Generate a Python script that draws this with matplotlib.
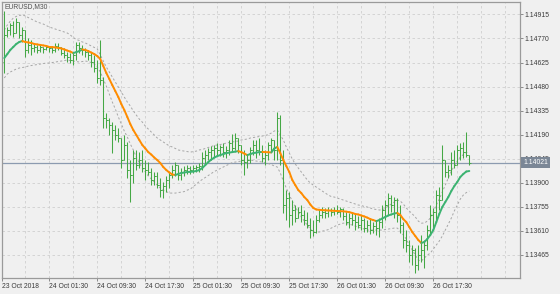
import matplotlib
matplotlib.use("Agg")
import matplotlib.pyplot as plt
import numpy as np
from matplotlib.collections import LineCollection
import matplotlib.transforms as mtransforms

symbol_title = "EURUSD,M30"
first_open = 1.14628
close = [
    1.14791, 1.14821, 1.14851, 1.14803, 1.14869, 1.14791, 1.14821, 1.14701, 1.14731, 1.14713,
    1.14719, 1.14701, 1.14719, 1.14707, 1.14719, 1.14713, 1.14701, 1.14725, 1.14719, 1.14682,
    1.14670, 1.14658, 1.14640, 1.14670, 1.14731, 1.14713, 1.14701, 1.14688, 1.14670, 1.14628,
    1.14592, 1.14532, 1.14520, 1.14290, 1.14278, 1.14248, 1.14218, 1.14188, 1.14170, 1.14037,
    1.14128, 1.13977, 1.13947, 1.14049, 1.14007, 1.14037, 1.13989, 1.13977, 1.13965, 1.13917,
    1.13941, 1.13886, 1.13856, 1.13880, 1.13917, 1.13947, 1.13977, 1.14007, 1.13947, 1.13965,
    1.13977, 1.13989, 1.13977, 1.13989, 1.13995, 1.14001, 1.14049, 1.14067, 1.14085, 1.14098,
    1.14110, 1.14098, 1.14116, 1.14085, 1.14098, 1.14140, 1.14110, 1.14170, 1.14128, 1.14037,
    1.14025, 1.14037, 1.14098, 1.14128, 1.14098, 1.14085, 1.14049, 1.14067, 1.14128, 1.14158,
    1.14098, 1.14290, 1.14037, 1.13766, 1.13808, 1.13706, 1.13736, 1.13687, 1.13724, 1.13706,
    1.13675, 1.13645, 1.13615, 1.13603, 1.13675, 1.13706, 1.13724, 1.13718, 1.13736, 1.13724,
    1.13736, 1.13724, 1.13742, 1.13700, 1.13663, 1.13687, 1.13675, 1.13663, 1.13645, 1.13675,
    1.13627, 1.13645, 1.13615, 1.13639, 1.13627, 1.13663, 1.13736, 1.13766, 1.13808, 1.13766,
    1.13796, 1.13706, 1.13645, 1.13555, 1.13525, 1.13464, 1.13495, 1.13404, 1.13464, 1.13495,
    1.13525, 1.13615, 1.13706, 1.13724, 1.13826, 1.13796, 1.14037, 1.13965, 1.13977, 1.14037,
    1.14007, 1.14098, 1.14110, 1.14085, 1.14067, 1.14021,
]
high = [
    1.14936, 1.14839, 1.14863, 1.14876, 1.14894, 1.14869, 1.14839, 1.14821, 1.14773, 1.14761,
    1.14743, 1.14731, 1.14731, 1.14719, 1.14731, 1.14719, 1.14725, 1.14743, 1.14743, 1.14719,
    1.14713, 1.14688, 1.14682, 1.14682, 1.14749, 1.14749, 1.14731, 1.14713, 1.14701, 1.14688,
    1.14670, 1.14640, 1.14761, 1.14538, 1.14321, 1.14290, 1.14266, 1.14248, 1.14230, 1.14158,
    1.14188, 1.14146, 1.14037, 1.14098, 1.14098, 1.14085, 1.14098, 1.14037, 1.14025, 1.13989,
    1.13965, 1.13965, 1.13929, 1.13905, 1.13941, 1.13965, 1.14007, 1.14025, 1.14007, 1.13989,
    1.14001, 1.14007, 1.14001, 1.14007, 1.14007, 1.14019, 1.14085, 1.14098, 1.14110, 1.14122,
    1.14128, 1.14140, 1.14128, 1.14140, 1.14122, 1.14158, 1.14194, 1.14200, 1.14170, 1.14128,
    1.14098, 1.14067, 1.14116, 1.14158, 1.14158, 1.14170, 1.14128, 1.14098, 1.14146, 1.14170,
    1.14158, 1.14327, 1.14309, 1.14098, 1.13856, 1.13844, 1.13796, 1.13766, 1.13754, 1.13766,
    1.13736, 1.13724, 1.13687, 1.13675, 1.13706, 1.13736, 1.13754, 1.13748, 1.13754, 1.13748,
    1.13754, 1.13766, 1.13754, 1.13748, 1.13724, 1.13718, 1.13724, 1.13712, 1.13700, 1.13706,
    1.13687, 1.13675, 1.13687, 1.13663, 1.13675, 1.13687, 1.13766, 1.13796, 1.13838, 1.13826,
    1.13814, 1.13808, 1.13766, 1.13663, 1.13615, 1.13555, 1.13525, 1.13507, 1.13525, 1.13585,
    1.13555, 1.13645, 1.13766, 1.13748, 1.13856, 1.13874, 1.14128, 1.14037, 1.14007, 1.14085,
    1.14098, 1.14128, 1.14140, 1.14146, 1.14206, 1.14067,
]
low = [
    1.14562, 1.14779, 1.14791, 1.14779, 1.14803, 1.14773, 1.14749, 1.14658, 1.14682, 1.14670,
    1.14688, 1.14682, 1.14688, 1.14682, 1.14701, 1.14688, 1.14682, 1.14688, 1.14701, 1.14670,
    1.14652, 1.14628, 1.14622, 1.14610, 1.14640, 1.14682, 1.14670, 1.14658, 1.14640, 1.14598,
    1.14568, 1.14502, 1.14489, 1.14230, 1.14230, 1.14188, 1.14079, 1.14158, 1.14146, 1.13989,
    1.14049, 1.13929, 1.13784, 1.13899, 1.13977, 1.13989, 1.13965, 1.13917, 1.13947, 1.13886,
    1.13886, 1.13868, 1.13814, 1.13808, 1.13844, 1.13868, 1.13929, 1.13941, 1.13917, 1.13917,
    1.13941, 1.13953, 1.13953, 1.13959, 1.13965, 1.13965, 1.13977, 1.14007, 1.14037, 1.14037,
    1.14055, 1.14067, 1.14061, 1.14055, 1.14049, 1.14067, 1.14085, 1.14098, 1.14079, 1.14007,
    1.13947, 1.13989, 1.14019, 1.14067, 1.14049, 1.14067, 1.14025, 1.14007, 1.14037, 1.14085,
    1.14037, 1.14037, 1.14007, 1.13718, 1.13675, 1.13633, 1.13645, 1.13663, 1.13687, 1.13663,
    1.13645, 1.13627, 1.13567, 1.13579, 1.13597, 1.13663, 1.13687, 1.13687, 1.13694, 1.13700,
    1.13706, 1.13712, 1.13694, 1.13675, 1.13645, 1.13627, 1.13645, 1.13615, 1.13627, 1.13615,
    1.13603, 1.13603, 1.13591, 1.13597, 1.13585, 1.13573, 1.13627, 1.13675, 1.13706, 1.13724,
    1.13687, 1.13663, 1.13597, 1.13507, 1.13482, 1.13422, 1.13404, 1.13356, 1.13374, 1.13422,
    1.13386, 1.13495, 1.13585, 1.13627, 1.13663, 1.13736, 1.13808, 1.13935, 1.13929, 1.13947,
    1.13989, 1.14025, 1.14037, 1.14049, 1.14055, 1.14007,
]
ma = [
    1.14652, 1.14676, 1.14701, 1.14719, 1.14737, 1.14749, 1.14755, 1.14749, 1.14746, 1.14743,
    1.14737, 1.14734, 1.14731, 1.14728, 1.14725, 1.14719, 1.14718, 1.14716, 1.14713, 1.14710,
    1.14704, 1.14697, 1.14691, 1.14682, 1.14688, 1.14694, 1.14704, 1.14701, 1.14694, 1.14685,
    1.14676, 1.14664, 1.14646, 1.14604, 1.14562, 1.14526, 1.14489, 1.14453, 1.14417, 1.14375,
    1.14339, 1.14297, 1.14254, 1.14218, 1.14188, 1.14158, 1.14128, 1.14107, 1.14085, 1.14070,
    1.14052, 1.14037, 1.14019, 1.13995, 1.13977, 1.13962, 1.13950, 1.13947, 1.13953, 1.13959,
    1.13962, 1.13965, 1.13966, 1.13968, 1.13971, 1.13977, 1.13989, 1.14007, 1.14025, 1.14040,
    1.14052, 1.14061, 1.14067, 1.14073, 1.14079, 1.14082, 1.14085, 1.14088, 1.14091, 1.14085,
    1.14076, 1.14067, 1.14073, 1.14079, 1.14082, 1.14085, 1.14086, 1.14085, 1.14084, 1.14083,
    1.14107, 1.14116, 1.14079, 1.14037, 1.14001, 1.13965, 1.13917, 1.13886, 1.13856, 1.13838,
    1.13814, 1.13796, 1.13769, 1.13748, 1.13739, 1.13737, 1.13735, 1.13734, 1.13733, 1.13732,
    1.13731, 1.13730, 1.13729, 1.13728, 1.13726, 1.13723, 1.13718, 1.13712, 1.13709, 1.13703,
    1.13697, 1.13690, 1.13681, 1.13675, 1.13669, 1.13675, 1.13685, 1.13694, 1.13703, 1.13709,
    1.13715, 1.13718, 1.13706, 1.13681, 1.13663, 1.13633, 1.13603, 1.13579, 1.13555, 1.13537,
    1.13543, 1.13561, 1.13585, 1.13615, 1.13663, 1.13712, 1.13754, 1.13784, 1.13814, 1.13850,
    1.13880, 1.13905, 1.13935, 1.13953, 1.13968, 1.13971,
]
upper = [
    1.14821, 1.14851, 1.14875, 1.14893, 1.14903, 1.14909, 1.14912, 1.14906, 1.14896, 1.14887,
    1.14878, 1.14869, 1.14863, 1.14857, 1.14848, 1.14839, 1.14833, 1.14827, 1.14821, 1.14815,
    1.14809, 1.14803, 1.14791, 1.14776, 1.14764, 1.14758, 1.14749, 1.14743, 1.14734, 1.14725,
    1.14716, 1.14707, 1.14670, 1.14634, 1.14598, 1.14568, 1.14538, 1.14508, 1.14477, 1.14447,
    1.14417, 1.14387, 1.14363, 1.14333, 1.14309, 1.14284, 1.14266, 1.14242, 1.14224, 1.14206,
    1.14188, 1.14170, 1.14158, 1.14146, 1.14134, 1.14122, 1.14116, 1.14107, 1.14098, 1.14094,
    1.14091, 1.14088, 1.14085, 1.14088, 1.14091, 1.14098, 1.14101, 1.14107, 1.14113, 1.14119,
    1.14125, 1.14128, 1.14131, 1.14134, 1.14140, 1.14143, 1.14146, 1.14149, 1.14152, 1.14158,
    1.14161, 1.14164, 1.14170, 1.14173, 1.14176, 1.14179, 1.14182, 1.14185, 1.14191, 1.14200,
    1.14212, 1.14218, 1.14188, 1.14158, 1.14116, 1.14079, 1.14043, 1.14013, 1.13989, 1.13965,
    1.13941, 1.13917, 1.13899, 1.13886, 1.13874, 1.13862, 1.13850, 1.13838, 1.13826, 1.13817,
    1.13814, 1.13808, 1.13802, 1.13796, 1.13790, 1.13784, 1.13778, 1.13772, 1.13766, 1.13763,
    1.13757, 1.13754, 1.13748, 1.13742, 1.13739, 1.13736, 1.13736, 1.13748, 1.13760, 1.13772,
    1.13784, 1.13796, 1.13790, 1.13772, 1.13748, 1.13730, 1.13712, 1.13694, 1.13669, 1.13657,
    1.13657, 1.13669, 1.13687, 1.13724, 1.13766, 1.13802, 1.13844, 1.13886, 1.13929, 1.13971,
    1.14001, 1.14031, 1.14055, 1.14070, 1.14082, 1.14088,
]
lower = [
    1.14532, 1.14556, 1.14568, 1.14577, 1.14586, 1.14592, 1.14595, 1.14598, 1.14604, 1.14607,
    1.14610, 1.14613, 1.14616, 1.14619, 1.14622, 1.14622, 1.14625, 1.14628, 1.14631, 1.14634,
    1.14637, 1.14640, 1.14637, 1.14634, 1.14631, 1.14628, 1.14631, 1.14634, 1.14631, 1.14625,
    1.14616, 1.14598, 1.14568, 1.14526, 1.14483, 1.14435, 1.14387, 1.14345, 1.14297, 1.14254,
    1.14212, 1.14176, 1.14134, 1.14098, 1.14055, 1.14019, 1.13989, 1.13965, 1.13941, 1.13923,
    1.13905, 1.13886, 1.13868, 1.13856, 1.13847, 1.13838, 1.13838, 1.13838, 1.13841, 1.13844,
    1.13847, 1.13856, 1.13862, 1.13877, 1.13892, 1.13908, 1.13920, 1.13932, 1.13944, 1.13956,
    1.13968, 1.13977, 1.13986, 1.13995, 1.14004, 1.14013, 1.14022, 1.14025, 1.14028, 1.14031,
    1.14034, 1.14037, 1.14037, 1.14034, 1.14031, 1.14028, 1.14025, 1.14022, 1.14016, 1.14010,
    1.14001, 1.13995, 1.13959, 1.13911, 1.13868, 1.13826, 1.13790, 1.13754, 1.13724, 1.13694,
    1.13669, 1.13645, 1.13621, 1.13603, 1.13600, 1.13603, 1.13609, 1.13612, 1.13618, 1.13627,
    1.13636, 1.13645, 1.13651, 1.13657, 1.13654, 1.13651, 1.13645, 1.13639, 1.13633, 1.13627,
    1.13621, 1.13615, 1.13615, 1.13615, 1.13615, 1.13615, 1.13615, 1.13618, 1.13621, 1.13624,
    1.13627, 1.13627, 1.13609, 1.13585, 1.13561, 1.13525, 1.13495, 1.13464, 1.13434, 1.13428,
    1.13446, 1.13464, 1.13476, 1.13500, 1.13525, 1.13549, 1.13579, 1.13615, 1.13651, 1.13687,
    1.13730, 1.13766, 1.13802, 1.13826, 1.13841, 1.13850,
]
current_price = 1.14021
ytick_values = [1.13465, 1.13610, 1.13755, 1.13900, 1.14045, 1.14190,
                1.14335, 1.14480, 1.14625, 1.14770, 1.14915]
xtick_bars = [-0.77, 15, 31, 47, 63, 79, 95, 111, 127, 143]
xtick_labels = ["23 Oct 2018", "24 Oct 01:30", "24 Oct 09:30", "24 Oct 17:30",
                "25 Oct 01:30", "25 Oct 09:30", "25 Oct 17:30", "26 Oct 01:30",
                "26 Oct 09:30", "26 Oct 17:30"]

# ---- styling ----
BG = "#f0f0f0"
BAR_C = "#45a845"
UP_C = "#3cb371"
DN_C = "#ff8c00"
BAND_C = "#a6a6a6"
GRID_C = "#cfcfcf"
TXT_C = "#3a3a3a"
FONT = "Liberation Sans"
FS = 4.9

fig = plt.figure(figsize=(5.6, 2.94), dpi=100, facecolor=BG)
ax = fig.add_axes([2 / 560, 16 / 294, 518 / 560, 276.5 / 294])
ax.set_facecolor(BG)

n = len(close)
x = np.arange(n)
c = np.array(close)
o = np.array([first_open] + close[:-1])
h = np.maximum.reduce([np.array(high), o, c])
l = np.minimum.reduce([np.array(low), o, c])

ax.set_xlim(-0.77, 171.9)
ax.set_ylim(1.13326, 1.14993)

# grid
for g in range(7, 172, 8):
    ax.axvline(g, color=GRID_C, lw=0.6, dashes=(3, 3), zorder=0)
ax.set_yticks(ytick_values)
ax.grid(axis="y", color=GRID_C, lw=0.6, dashes=(3, 3), zorder=0)
ax.set_axisbelow(True)

# bands
ax.plot(x, upper, color=BAND_C, lw=0.7, dashes=(2.2, 2.2), zorder=2)
ax.plot(x, lower, color=BAND_C, lw=0.7, dashes=(2.2, 2.2), zorder=2)

# current price line
ax.axhline(current_price, color="#8c9bb0", lw=0.9, zorder=1.5)

# OHLC bars
ax.vlines(x, l, h, color=BAR_C, lw=0.75, zorder=3)
ax.hlines(o, x - 0.45, x, color=BAR_C, lw=0.7, zorder=3)
ax.hlines(c, x, x + 0.45, color=BAR_C, lw=0.7, zorder=3)

# colour-changing MA
m = np.array(ma)
pts = np.column_stack([x, m])
segs = np.stack([pts[:-1], pts[1:]], axis=1)
cols = [UP_C if d >= 0 else DN_C for d in np.diff(m)]
lc = LineCollection(segs, colors=cols, linewidths=1.4, capstyle="round", zorder=4)
ax.add_collection(lc)

# axes styling
for sp in ax.spines.values():
    sp.set_color("#9a9a9a")
    sp.set_linewidth(0.9)
ax.yaxis.tick_right()
ax.set_yticklabels([f"{v:.5f}" for v in ytick_values], fontsize=FS,
                   family=FONT, color=TXT_C)
ax.tick_params(axis="y", direction="out", length=2.3, width=0.6,
               color="#7a7a7a", pad=1.2)
ax.set_xticks(xtick_bars)
ax.set_xticklabels(xtick_labels, fontsize=FS, family=FONT, color=TXT_C, ha="left")
ax.tick_params(axis="x", direction="out", length=2.3, width=0.6,
               color="#7a7a7a", pad=1.0)

# title
ax.text(0.004, 0.996, symbol_title, transform=ax.transAxes, ha="left", va="top",
        fontsize=FS, family=FONT, color="#505050")

# current price label
tr = mtransforms.blended_transform_factory(ax.transAxes, ax.transData)
ax.text(1.006, current_price, f"{current_price:.5f}", transform=tr, ha="left",
        va="center", fontsize=FS, family=FONT, color="white", zorder=10,
        clip_on=False,
        bbox=dict(boxstyle="square,pad=0.3", fc="#7b8796", ec="none"))

fig.savefig("out.png", dpi=100, facecolor=BG)
